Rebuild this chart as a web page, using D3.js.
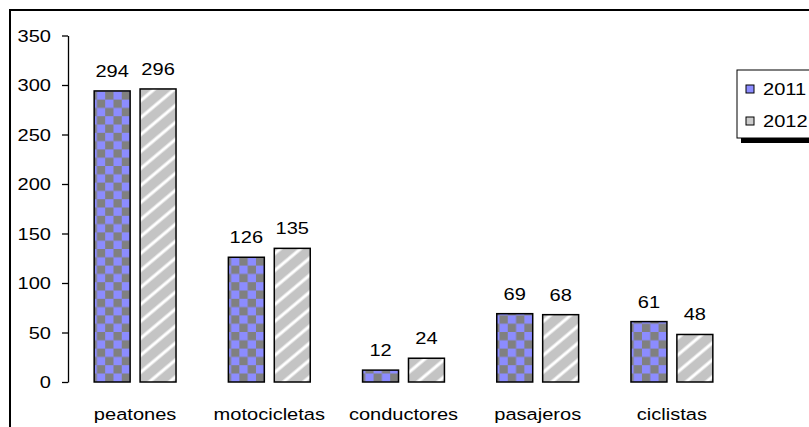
<!DOCTYPE html>
<html>
<head>
<meta charset="utf-8">
<script src="https://cdn.jsdelivr.net/npm/d3@7"></script>
<style>
  body { margin: 0; background: #fff; }
  text { font-family: "Liberation Sans", Arial, sans-serif; fill: #000; }
</style>
</head>
<body>
<div id="chart"></div>
<script>
const width = 809;
const height = 427;

// datos
const categorias = ["peatones", "motocicletas", "conductores", "pasajeros", "ciclistas"];
const series = ["2011", "2012"];
const valores2011 = [294, 126, 12, 69, 61];
const valores2012 = [296, 135, 24, 68, 48];
const ticksY = [0, 50, 100, 150, 200, 250, 300, 350];

const sx = 1.18; // texto algo ensanchado como en la imagen
const fs = "17px";

let svg = d3.select("#chart").append("svg")
    .attr("width", width)
    .attr("height", height);

let defs = svg.append("defs");

// patron cuadriculado para 2011
let checker = defs.append("pattern")
    .attr("id", "checker")
    .attr("patternUnits", "userSpaceOnUse")
    .attr("x", 94).attr("y", 0)
    .attr("width", 16.6).attr("height", 16.6);
checker.append("rect").attr("width", 16.6).attr("height", 16.6).attr("fill", "#8c8cff");
checker.append("rect").attr("x", 8.3).attr("width", 8.3).attr("height", 8.3).attr("fill", "#808080");
checker.append("rect").attr("y", 8.3).attr("width", 8.3).attr("height", 8.3).attr("fill", "#808080");

// patron rayado para 2012
let stripes = defs.append("pattern")
    .attr("id", "stripes")
    .attr("patternUnits", "userSpaceOnUse")
    .attr("width", 13).attr("height", 13)
    .attr("patternTransform", "rotate(50)");
stripes.append("rect").attr("width", 13).attr("height", 13).attr("fill", "#c4c4c4");
stripes.append("rect").attr("x", 1).attr("width", 4).attr("height", 13).attr("fill", "#e4e4e4");
stripes.append("rect").attr("x", 2).attr("width", 2).attr("height", 13).attr("fill", "#ffffff");

const relleno = { "2011": "url(#checker)", "2012": "url(#stripes)" };
const swatchFill = { "2011": "#8c8cff", "2012": "#cccccc" };

// marco del grafico
svg.append("rect")
    .attr("x", 10).attr("y", 10)
    .attr("width", 820).attr("height", 440)
    .attr("fill", "none")
    .attr("stroke", "#000")
    .attr("stroke-width", 2);

let xScale = d3.scaleBand()
    .domain(categorias)
    .range([68, 739])
    .paddingInner(0.39)
    .paddingOuter(0.195);

let x1 = d3.scaleBand()
    .domain(series)
    .range([0, xScale.bandwidth()])
    .paddingInner(0.217);

let yScale = d3.scaleLinear()
    .domain([0, 350])
    .range([382, 35.5]);

// eje y
let yAxis = svg.append("g")
    .attr("transform", "translate(68,0)")
    .call(d3.axisLeft(yScale).tickValues(ticksY).tickSize(6).tickSizeOuter(0).tickPadding(11));
yAxis.select(".domain").attr("stroke", "#000").attr("stroke-width", 1.3);
yAxis.selectAll(".tick line").attr("stroke", "#000").attr("stroke-width", 1.3);
yAxis.selectAll(".tick text")
    .attr("font-family", "Liberation Sans, Arial, sans-serif")
    .style("font-size", fs)
    .attr("fill", "#000")
    .attr("x", null)
    .attr("dy", null)
    .attr("dominant-baseline", "central")
    .attr("transform", `translate(-17,0) scale(${sx},1)`);

// barras
let datos = categorias.map((c, i) => ({ cat: c, vals: [
    { serie: "2011", v: valores2011[i] },
    { serie: "2012", v: valores2012[i] }
]}));

let grupos = svg.selectAll("g.grupo")
    .data(datos)
    .enter()
    .append("g")
    .attr("class", "grupo")
    .attr("transform", d => `translate(${xScale(d.cat)},0)`);

grupos.selectAll("rect")
    .data(d => d.vals)
    .enter()
    .append("rect")
    .attr("x", d => x1(d.serie))
    .attr("y", d => yScale(d.v))
    .attr("width", x1.bandwidth())
    .attr("height", d => yScale(0) - yScale(d.v))
    .attr("fill", d => relleno[d.serie])
    .attr("stroke", "#000")
    .attr("stroke-width", 1.5);

grupos.selectAll("text.valor")
    .data(d => d.vals)
    .enter()
    .append("text")
    .attr("class", "valor")
    .attr("text-anchor", "middle")
    .style("font-size", fs)
    .attr("transform", d => `translate(${x1(d.serie) + x1.bandwidth() / 2},${yScale(d.v) - 14}) scale(${sx},1)`)
    .text(d => d.v);

// etiquetas del eje x
svg.selectAll("text.cat")
    .data(categorias)
    .enter()
    .append("text")
    .attr("class", "cat")
    .attr("text-anchor", "middle")
    .style("font-size", fs)
    .attr("transform", d => `translate(${xScale(d) + xScale.bandwidth() / 2},420) scale(${sx},1)`)
    .text(d => d);

// leyenda
let leyenda = svg.append("g").attr("transform", "translate(737,70)");
leyenda.append("rect")
    .attr("x", 4).attr("y", 4)
    .attr("width", 100).attr("height", 69)
    .attr("fill", "#000");
leyenda.append("rect")
    .attr("x", 0).attr("y", 0)
    .attr("width", 100).attr("height", 68)
    .attr("fill", "#fff")
    .attr("stroke", "#000")
    .attr("stroke-width", 1);

let items = leyenda.selectAll("g.item")
    .data(series)
    .enter()
    .append("g")
    .attr("class", "item")
    .attr("transform", (d, i) => `translate(9,${15 + i * 32})`);
items.append("rect")
    .attr("width", 8).attr("height", 8)
    .attr("fill", d => swatchFill[d])
    .attr("stroke", "#000")
    .attr("stroke-width", 1);
items.append("text")
    .style("font-size", fs)
    .attr("dominant-baseline", "central")
    .attr("transform", `translate(17,4) scale(${sx},1)`)
    .text(d => d);
</script>
</body>
</html>
